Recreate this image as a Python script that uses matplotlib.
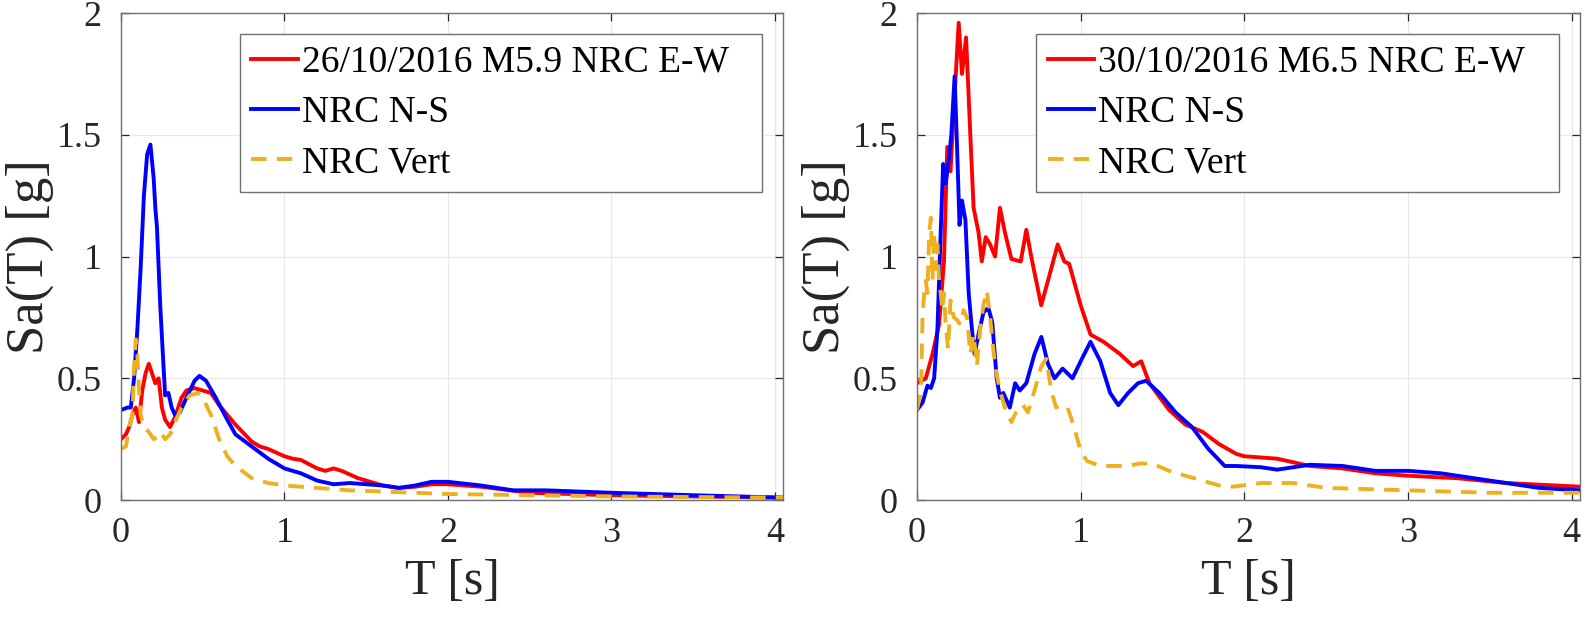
import matplotlib.pyplot as plt

plt.rcParams['font.family'] = ['Liberation Serif', 'DejaVu Serif']

# 26/10/2016 M5.9 - periods [s] and spectral accelerations [g]
t_ew1 = [0, 0.03, 0.05, 0.07, 0.09, 0.11, 0.13, 0.15, 0.17, 0.19, 0.21, 0.23, 0.25, 0.27, 0.3, 0.33,
         0.37, 0.4, 0.45, 0.5, 0.55, 0.6, 0.7, 0.8, 0.85, 0.9, 1.0, 1.05, 1.1, 1.2, 1.25, 1.3, 1.35,
         1.45, 1.6, 1.7, 1.8, 1.9, 2.0, 2.2, 2.5, 3.0, 3.5, 4.05]
sa_ew1 = [0.25, 0.27, 0.3, 0.35, 0.38, 0.32, 0.45, 0.52, 0.56, 0.52, 0.48, 0.5, 0.38, 0.33, 0.30, 0.34,
          0.42, 0.45, 0.46, 0.45, 0.44, 0.39, 0.31, 0.24, 0.22, 0.21, 0.18, 0.17, 0.165, 0.13, 0.12, 0.13, 0.12,
          0.09, 0.06, 0.05, 0.055, 0.065, 0.065, 0.055, 0.03, 0.02, 0.015, 0.01]

t_ns1 = [0, 0.04, 0.06, 0.08, 0.1, 0.12, 0.14, 0.16, 0.18, 0.2, 0.21, 0.22, 0.24, 0.26, 0.27, 0.29,
         0.31, 0.33, 0.36, 0.4, 0.45, 0.48, 0.52, 0.58, 0.65, 0.7, 0.8, 0.9, 1.0, 1.1, 1.2, 1.3, 1.4,
         1.5, 1.6, 1.7, 1.8, 1.9, 2.0, 2.2, 2.4, 2.6, 3.0, 3.5, 4.05]
sa_ns1 = [0.37, 0.38, 0.38, 0.5, 0.7, 0.95, 1.25, 1.42, 1.46, 1.32, 1.2, 1.12, 0.8, 0.55, 0.43, 0.44,
          0.38, 0.35, 0.36, 0.42, 0.49, 0.51, 0.49, 0.42, 0.33, 0.27, 0.22, 0.17, 0.13, 0.11, 0.08, 0.065, 0.07,
          0.065, 0.06, 0.05, 0.06, 0.075, 0.075, 0.06, 0.04, 0.04, 0.03, 0.02, 0.01]

t_v1 = [0, 0.03, 0.05, 0.07, 0.08, 0.09, 0.1, 0.11, 0.12, 0.14, 0.17, 0.2, 0.22, 0.24, 0.27, 0.3,
        0.33, 0.37, 0.42, 0.47, 0.5, 0.55, 0.6, 0.65, 0.7, 0.8, 0.9, 1.0, 1.2, 1.4, 1.6, 2.0, 2.5, 3.0, 4.05]
sa_v1 = [0.21, 0.22, 0.3, 0.35, 0.55, 0.66, 0.6, 0.45, 0.35, 0.3, 0.28, 0.25, 0.26, 0.28, 0.25, 0.27,
         0.32, 0.38, 0.43, 0.44, 0.42, 0.35, 0.25, 0.18, 0.14, 0.09, 0.07, 0.06, 0.05, 0.04, 0.035, 0.025, 0.02, 0.015, 0.01]

# 30/10/2016 M6.5
t_ew2 = [0, 0.054, 0.095, 0.135, 0.165, 0.185, 0.205, 0.225, 0.255, 0.275, 0.3, 0.326, 0.346, 0.376,
         0.396, 0.42, 0.447, 0.477, 0.507, 0.537, 0.577, 0.634, 0.668, 0.698, 0.759, 0.8, 0.86, 0.9, 0.93,
         1.0, 1.06, 1.14, 1.24, 1.32, 1.37, 1.42, 1.54, 1.64, 1.745, 1.845, 1.95, 2.0, 2.2, 2.4, 2.6, 2.8,
         3.0, 3.3, 3.6, 4.05]
sa_ew2 = [0.48, 0.5, 0.6, 0.72, 0.98, 1.45, 1.35, 1.6, 1.96, 1.75, 1.9, 1.5, 1.2, 1.1,
          0.98, 1.08, 1.05, 1.0, 1.2, 1.1, 0.99, 0.98, 1.11, 1.0, 0.80, 0.9, 1.05, 0.98, 0.97,
          0.80, 0.68, 0.65, 0.6, 0.55, 0.57, 0.48, 0.37, 0.31, 0.28, 0.23, 0.19, 0.18, 0.17, 0.14, 0.13, 0.11,
          0.1, 0.09, 0.07, 0.055]

t_ns2 = [0, 0.034, 0.064, 0.085, 0.105, 0.125, 0.145, 0.16, 0.175, 0.195, 0.21, 0.23, 0.245, 0.26,
         0.275, 0.296, 0.316, 0.336, 0.352, 0.376, 0.406, 0.436, 0.46, 0.487, 0.507, 0.527, 0.567, 0.6,
         0.628, 0.668, 0.718, 0.76, 0.8, 0.84, 0.89, 0.95, 1.0, 1.06, 1.12, 1.18, 1.23, 1.29, 1.35, 1.4,
         1.48, 1.58, 1.68, 1.78, 1.88, 1.95, 2.1, 2.2, 2.4, 2.6, 2.8, 3.0, 3.2, 3.5, 3.8, 4.05]
sa_ns2 = [0.37, 0.40, 0.47, 0.46, 0.5, 0.7, 1.1, 1.38, 1.3, 1.4, 1.5, 1.74, 1.45, 1.13,
          1.23, 1.15, 0.85, 0.7, 0.6, 0.68, 0.77, 0.79, 0.73, 0.5, 0.42, 0.44, 0.38, 0.48,
          0.45, 0.48, 0.6, 0.67, 0.56, 0.5, 0.54, 0.5, 0.57, 0.65, 0.57, 0.44, 0.39, 0.44, 0.48, 0.49,
          0.44, 0.36, 0.3, 0.21, 0.14, 0.14, 0.135, 0.125, 0.145, 0.14, 0.12, 0.12, 0.11, 0.08, 0.05, 0.04]

t_v2 = [0, 0.025, 0.034, 0.044, 0.054, 0.064, 0.075, 0.085, 0.095, 0.105, 0.115, 0.125, 0.135, 0.145,
        0.155, 0.165, 0.175, 0.19, 0.205, 0.225, 0.245, 0.265, 0.285, 0.306, 0.326, 0.346, 0.366, 0.386,
        0.406, 0.427, 0.447, 0.477, 0.507, 0.537, 0.577, 0.618, 0.648, 0.678, 0.718, 0.76, 0.79, 0.82,
        0.85, 0.88, 0.92, 0.96, 1.0, 1.04, 1.12, 1.2, 1.28, 1.36, 1.44, 1.54, 1.64, 1.745, 1.845, 1.93,
        2.1, 2.3, 2.5, 3.0, 3.5, 4.05]
sa_v2 = [0.37, 0.45, 0.75, 0.85, 0.9, 0.85, 1.1, 1.16, 0.9, 1.1, 0.95, 1.05, 0.9, 0.85,
         0.78, 0.85, 0.73, 0.62, 0.82, 0.75, 0.74, 0.72, 0.78, 0.75, 0.6, 0.68, 0.55, 0.7,
         0.8, 0.86, 0.75, 0.55, 0.45, 0.38, 0.32, 0.38, 0.39, 0.36, 0.45, 0.55, 0.58, 0.45,
         0.38, 0.39, 0.38, 0.3, 0.2, 0.16, 0.14, 0.14, 0.14, 0.15, 0.15, 0.12, 0.1, 0.08, 0.06, 0.055,
         0.07, 0.07, 0.05, 0.04, 0.03, 0.03]

panels = [
    ('26/10/2016 M5.9 NRC E-W', (t_ew1, sa_ew1), (t_ns1, sa_ns1), (t_v1, sa_v1)),
    ('30/10/2016 M6.5 NRC E-W', (t_ew2, sa_ew2), (t_ns2, sa_ns2), (t_v2, sa_v2)),
]
positions = [[0.0761, 0.196, 0.4164, 0.783], [0.5767, 0.196, 0.417, 0.783]]
axis_col = '#262626'

fig = plt.figure(figsize=(15.9, 6.22), dpi=100)

for (label, ew, ns, vert), pos in zip(panels, positions):
    ax = fig.add_axes(pos)
    ax.plot(ew[0], ew[1], color='#ff0000', lw=2.8, label=label)
    ax.plot(ns[0], ns[1], color='#0000ff', lw=2.8, label='NRC N-S')
    ax.plot(vert[0], vert[1], color='#edb120', lw=2.8, ls=(0, (4, 2.6)), label='NRC Vert')
    ax.set_xlim(0, 4.05)
    ax.set_ylim(0, 2)
    ax.set_xticks([0, 1, 2, 3, 4])
    ax.set_yticks([0, 0.5, 1, 1.5, 2])
    ax.set_yticklabels(['0', '0.5', '1', '1.5', '2'])
    ax.grid(True, color='#e8e8e8', lw=0.9)
    ax.set_axisbelow(True)
    ax.tick_params(labelsize=26, direction='in', length=6, colors=axis_col,
                   top=True, right=True, width=0.9)
    ax.tick_params(axis='x', pad=12)
    ax.tick_params(axis='y', pad=14)
    for s in ax.spines.values():
        s.set_color('#707070')
        s.set_linewidth(1.0)
    ax.set_xlabel('T [s]', fontsize=36, color=axis_col, labelpad=6)
    ax.set_ylabel('Sa(T) [g]', fontsize=38, color=axis_col, labelpad=2)
    leg = ax.legend(loc='upper left', bbox_to_anchor=(0.18, 0, 0.788, 0.957), mode='expand',
                    borderaxespad=0, fontsize=27, fancybox=False, framealpha=1,
                    edgecolor='#707070', handlelength=1.25, handletextpad=0.1,
                    borderpad=0.3, labelspacing=0.42)
    leg.get_frame().set_linewidth(1.0)

fig.savefig('out.png', dpi=100)
